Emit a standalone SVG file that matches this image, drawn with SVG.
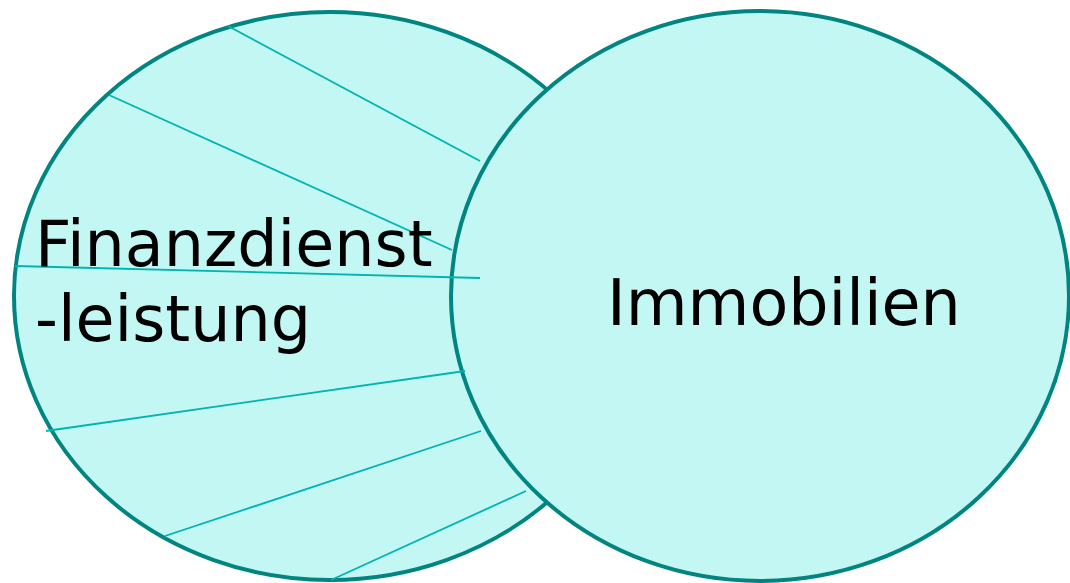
<svg xmlns="http://www.w3.org/2000/svg" width="1070" height="583" viewBox="0 0 1070 583">
<style>
.ell{fill:#C2F7F3;stroke:#008580;stroke-width:4}
.ln{stroke:#00B4B0;stroke-width:1.8;fill:none}
.lbl{font-family:"DejaVu Sans",Verdana,sans-serif;font-size:63.5px;fill:#000}
</style>
<rect width="1070" height="583" fill="#fff"/>
<g id="finanz">
<ellipse class="ell" cx="330" cy="296" rx="316" ry="284"/>
</g>
<g id="immobilien">
<ellipse class="ell" cx="760" cy="296" rx="309" ry="285"/>
<text class="lbl" x="607" y="325">Immobilien</text>
</g>
<g id="connectors">
<line class="ln" x1="228" y1="26" x2="480" y2="161"/>
<line class="ln" x1="109" y1="95" x2="452" y2="250"/>
<line class="ln" x1="15" y1="266" x2="480" y2="278"/>
<line class="ln" x1="46" y1="431" x2="465" y2="371"/>
<line class="ln" x1="165" y1="536" x2="481" y2="431"/>
<line class="ln" x1="331" y1="580" x2="526" y2="491"/>
</g>
<g id="finanz-label">
<text class="lbl" x="35" y="266">Finanzdienst</text>
<text class="lbl" x="35" y="341">-leistung</text>
</g>
</svg>
